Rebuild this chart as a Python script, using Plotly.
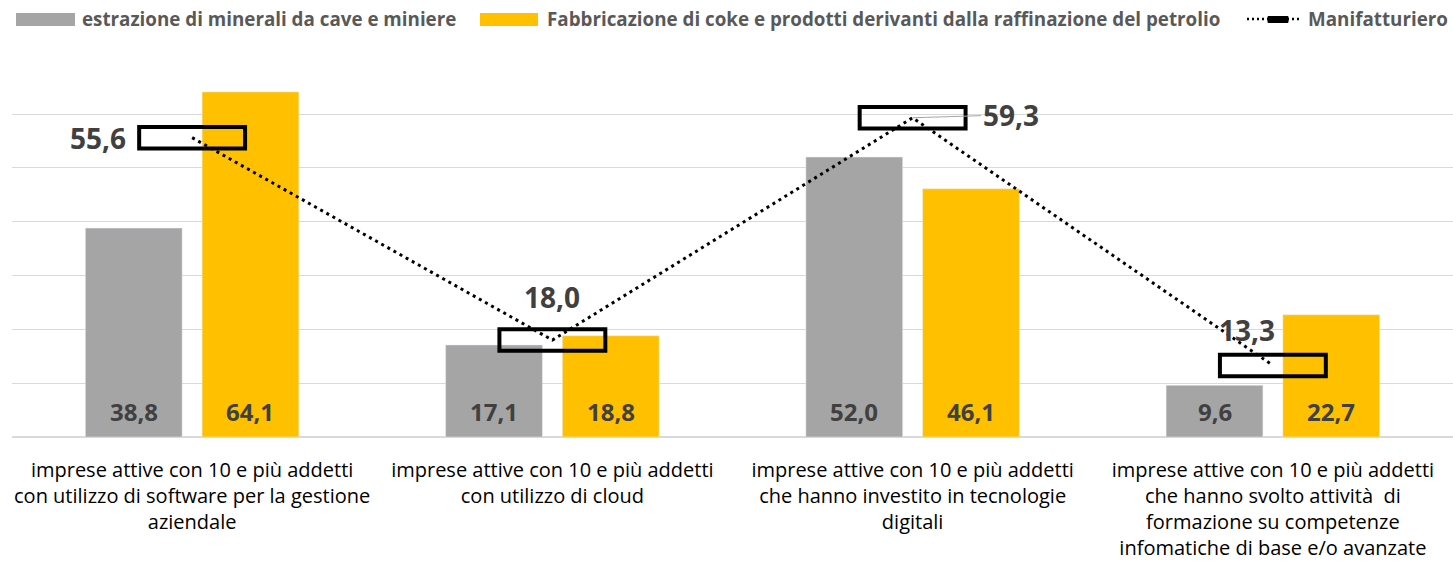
import plotly.graph_objects as go

categories = [
    "imprese attive con 10 e più addetti<br>con utilizzo di software per la gestione<br>aziendale",
    "imprese attive con 10 e più addetti<br>con utilizzo di cloud",
    "imprese attive con 10 e più addetti<br>che hanno investito in tecnologie<br>digitali",
    "imprese attive con 10 e più addetti<br>che hanno svolto attività  di<br>formazione su competenze<br>infomatiche di base e/o avanzate",
]
estrazione = [38.8, 17.1, 52.0, 9.6]
coke = [64.1, 18.8, 46.1, 22.7]
manifatturiero = [55.6, 18.0, 59.3, 13.3]
series_names = [
    "estrazione di minerali da cave e miniere",
    "Fabbricazione di coke e prodotti derivanti dalla raffinazione del petrolio",
    "Manifatturiero",
]

GRAY = "#A5A5A5"
YELLOW = "#FFC000"
LBL = "#404040"
FONT = "Open Sans"

W, H = 1453, 561
ML, MR, MT, MB = 12, 0, 60, 124
PW = W - ML - MR
PH = H - MT - MB

def px_x(p):
    return (p - ML) / PW

def px_y(p):
    return (H - MB - p) / PH

xs = list(range(len(categories)))
fmt = lambda v: f"{v:.1f}".replace(".", ",")

BARGAP = 0.352
GROUPGAP = 0.171
slot = (1 - BARGAP) / 2

fig = go.Figure()
fig.add_trace(go.Bar(x=xs, y=estrazione, name=series_names[0], marker_color=GRAY, showlegend=False))
fig.add_trace(go.Bar(x=xs, y=coke, name=series_names[1], marker_color=YELLOW, showlegend=False))
fig.add_trace(go.Scatter(x=xs, y=manifatturiero, name=series_names[2], mode="lines",
                         line=dict(color="black", width=3, dash="3px,4px"), showlegend=False))

annotations = []
shapes = []
# bar value labels at base
for i in xs:
    for off, vals in ((-slot / 2, estrazione), (slot / 2, coke)):
        annotations.append(dict(x=i + off, y=0, xref="x", yref="y", text=f"<b>{fmt(vals[i])}</b>",
                                showarrow=False, yanchor="bottom", yshift=7,
                                font=dict(family=FONT, size=24, color=LBL)))

# manifatturiero boxes
for i, v in zip(xs, manifatturiero):
    shapes.append(dict(type="rect", xref="x", yref="y", x0=i - 0.147, x1=i + 0.147,
                       y0=v - 2.0, y1=v + 2.0, line=dict(color="black", width=4),
                       fillcolor="rgba(0,0,0,0)", layer="above"))

# manifatturiero labels
lab_pos = [(-94, 0), (0, 43), None, (-26, 35)]
for i, v in zip(xs, manifatturiero):
    pos = lab_pos[i]
    if pos is None:
        annotations.append(dict(x=i, y=v, xref="x", yref="y", text=f"<b>{fmt(v)}</b>",
                                showarrow=True, arrowhead=0, arrowwidth=1, arrowcolor="#A6A6A6",
                                ax=98, ay=-3, font=dict(family=FONT, size=28, color=LBL)))
    else:
        annotations.append(dict(x=i, y=v, xref="x", yref="y", text=f"<b>{fmt(v)}</b>",
                                showarrow=False, xshift=pos[0], yshift=pos[1],
                                font=dict(family=FONT, size=28, color=LBL)))

# manual legend
ly = px_y(19)
shapes.append(dict(type="rect", xref="paper", yref="paper", x0=px_x(16), x1=px_x(75),
                   y0=px_y(26), y1=px_y(13), fillcolor=GRAY, line=dict(width=0)))
shapes.append(dict(type="rect", xref="paper", yref="paper", x0=px_x(480), x1=px_x(538),
                   y0=px_y(26), y1=px_y(13), fillcolor=YELLOW, line=dict(width=0)))
shapes.append(dict(type="line", xref="paper", yref="paper", x0=px_x(1247), x1=px_x(1300),
                   y0=ly, y1=ly, line=dict(color="black", width=2.5, dash="2px,3px")))
shapes.append(dict(type="rect", xref="paper", yref="paper", x0=px_x(1268), x1=px_x(1288),
                   y0=px_y(22.5), y1=px_y(16.5), fillcolor="black", line=dict(color="black", width=1)))
for xp, t in ((80, series_names[0]), (545, series_names[1]), (1306, series_names[2])):
    annotations.append(dict(x=px_x(xp), y=ly, xref="paper", yref="paper", text=f"<b>{t}</b>",
                            showarrow=False, xanchor="left", yanchor="middle",
                            font=dict(family=FONT, size=18.8, color="#595959")))

fig.update_layout(
    width=W, height=H,
    margin=dict(l=ML, r=MR, t=MT, b=MB),
    paper_bgcolor="white", plot_bgcolor="white",
    barmode="group", bargap=BARGAP, bargroupgap=GROUPGAP,
    showlegend=False,
    annotations=annotations, shapes=shapes,
    xaxis=dict(range=[-0.5, 3.5], tickvals=xs, ticktext=categories, showgrid=False,
               zeroline=False, showline=False, ticks="", ticklabelstandoff=19,
               tickfont=dict(family=FONT, size=20, color="black")),
    yaxis=dict(range=[0, 70.03], dtick=10, showgrid=True, gridcolor="#D9D9D9", gridwidth=1,
               zeroline=True, zerolinecolor="#D9D9D9", zerolinewidth=1.5,
               showticklabels=False, ticks=""),
)

fig.write_html("out.html", config={"displayModeBar": False})
with open("out.html", "r", encoding="utf-8") as f:
    html = f.read()
html = html.replace("<body>", '<body style="margin:0;padding:0">', 1)
with open("out.html", "w", encoding="utf-8") as f:
    f.write(html)
